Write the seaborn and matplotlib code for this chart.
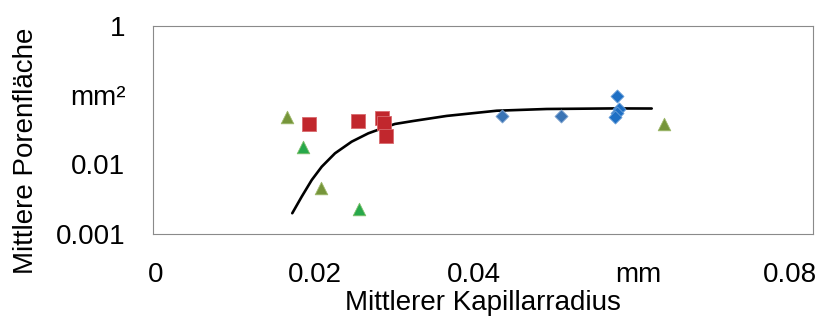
import matplotlib
matplotlib.use("Agg")
import matplotlib.pyplot as plt
import seaborn as sns
import pandas as pd

# Measured samples: mean capillary radius (mm) vs. mean pore area (mm^2)
olive_x = [0.01628, 0.02033, 0.06198]
olive_y = [0.0478, 0.00455, 0.0379]

green_x = [0.01815, 0.02501]
green_y = [0.0180, 0.00229]

red_x = [0.01891, 0.02481, 0.02772, 0.02804, 0.02821]
red_y = [0.0383, 0.0427, 0.0462, 0.0399, 0.0260]

steel_x = [0.04227, 0.04942]
steel_y = [0.0499, 0.0499]

blue_x = [0.05621, 0.05652, 0.05624, 0.05600]
blue_y = [0.0977, 0.0623, 0.0551, 0.0478]

# Trend curve through the samples
curve_x = [0.01688, 0.01802, 0.01924, 0.02045, 0.02206, 0.02408, 0.02610,
           0.02812, 0.02933, 0.03156, 0.03560, 0.04166, 0.04772, 0.05580, 0.06045]
curve_y = [0.00199, 0.00344, 0.00598, 0.00929, 0.01449, 0.02130, 0.02810,
           0.03430, 0.03830, 0.04230, 0.05000, 0.05940, 0.06290, 0.06410, 0.06390]

# Axis tick values and labels
x_ticks = [0.0, 0.02, 0.04, 0.06, 0.08]
x_label_pos = [0.0003, 0.01964, 0.03885, 0.0588, 0.0772]
x_labels = ["0", "0.02", "0.04", "mm", "0.08"]
y_ticks = [0.001, 0.01, 0.1, 1]
y_labels = ["0.001", "0.01", "mm²", "1"]

groups = ["olive", "green", "red", "steel", "blue"]
frames = []
for g, xs, ys in zip(groups,
                     [olive_x, green_x, red_x, steel_x, blue_x],
                     [olive_y, green_y, red_y, steel_y, blue_y]):
    frames.append(pd.DataFrame({"radius": xs, "area": ys, "group": g}))
points = pd.concat(frames, ignore_index=True)
curve = pd.DataFrame({"radius": curve_x, "area": curve_y})

palette = {"olive": "#76953A", "green": "#27A84A", "red": "#C1272D",
           "steel": "#3A74B5", "blue": "#1E6FC4"}
edges = {"olive": "#9DB86A", "green": "#7FBF6A", "red": "#D86A6E",
         "steel": "#7FA3CF", "blue": "#6A9FD8"}
markers = {"olive": "^", "green": "^", "red": "s", "steel": "D", "blue": "D"}
sizes = {"olive": 82, "green": 82, "red": 88, "steel": 44, "blue": 44}

sns.set_style("white")
plt.rcParams["font.family"] = ["Liberation Sans", "DejaVu Sans"]

fig = plt.figure(figsize=(8.19, 3.20), dpi=100)
ax = fig.add_axes([153 / 819, 1 - 234 / 320, 660 / 819, 208.5 / 320])

sns.lineplot(data=curve, x="radius", y="area", ax=ax, color="black",
             linewidth=1.9, sort=False, estimator=None, zorder=2)

for g in groups:
    sub = points[points["group"] == g]
    sns.scatterplot(data=sub, x="radius", y="area", ax=ax,
                    color=palette[g], marker=markers[g], s=sizes[g],
                    edgecolor=edges[g], linewidth=0.6, zorder=3, legend=False)

ax.set_yscale("log")
ax.set_xlim(0, 0.08)
ax.set_ylim(0.001, 1)

ax.set_xticks(x_ticks)
ax.set_xticklabels([""] * len(x_ticks))
ax.set_xticks(x_label_pos, minor=True)
ax.set_xticklabels(x_labels, minor=True)
ax.set_yticks(y_ticks)
ax.set_yticklabels(y_labels)
ax.yaxis.set_minor_locator(matplotlib.ticker.NullLocator())

ax.tick_params(axis="both", which="major", direction="in", length=4,
               width=0.8, color="#8A8A8A", labelsize=20, labelcolor="black")
ax.tick_params(axis="y", which="major", pad=20)
ax.tick_params(axis="x", which="minor", length=0, pad=20, labelsize=20,
               labelcolor="black")

for side in ["left", "right", "top", "bottom"]:
    ax.spines[side].set_visible(True)
    ax.spines[side].set_color("#8A8A8A")
    ax.spines[side].set_linewidth(0.8)

ax.set_xlabel("Mittlerer Kapillarradius", fontsize=20, color="black")
ax.xaxis.set_label_coords(0.5, -0.27)
ax.set_ylabel("")
fig.text(26 / 819, 1 - 151 / 320, "Mittlere Porenfläche", rotation=90,
         ha="center", va="center", fontsize=20, color="black")

fig.savefig("out.png", dpi=100, facecolor="white")
